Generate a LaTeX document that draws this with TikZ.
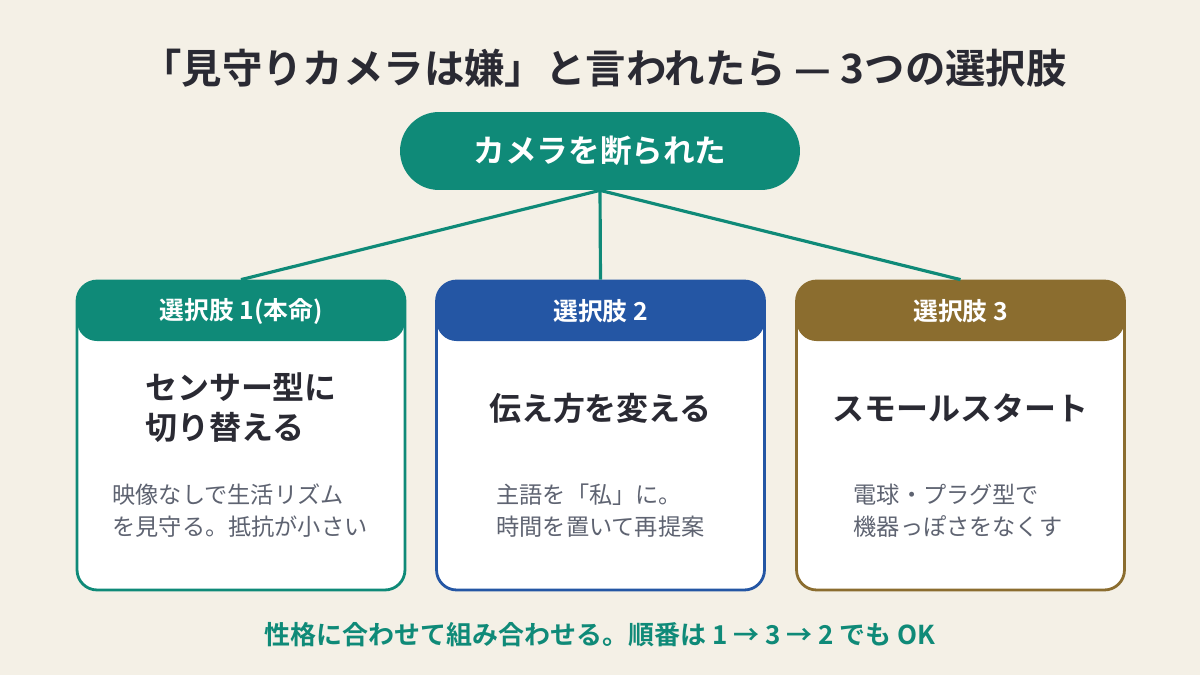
\documentclass[tikz,border=0pt]{standalone}
\usepackage{fontspec}
\setmainfont{Noto Sans CJK JP}[BoldFont={Noto Sans CJK JP Bold}]
\usetikzlibrary{positioning,calc}
\definecolor{bgcream}{HTML}{F4F0E6}
\definecolor{tealc}{HTML}{0F8A78}
\definecolor{bluec}{HTML}{2456A4}
\definecolor{brownc}{HTML}{8B6D2F}
\definecolor{inkc}{HTML}{2A2A33}
\definecolor{notec}{HTML}{5E6371}
\tikzset{
  card/.style={draw=#1, line width=1.6pt, fill=white, rounded corners=0.4cm,
    minimum width=6.56cm, minimum height=6.18cm,
    path picture={\fill[#1] (path picture bounding box.north west) rectangle
      ([yshift=-1.2cm]path picture bounding box.north east);}},
  headtxt/.style={text=white, font=\fontsize{14.1}{16}\selectfont\bfseries,
    minimum height=1.25cm, inner sep=0pt},
  choice/.style={text=inkc, align=left, font=\fontsize{18.2}{22.8}\selectfont\bfseries},
  detail/.style={text=notec, align=left, font=\fontsize{13.2}{18.2}\selectfont},
  link/.style={tealc, line width=1.8pt},
}
\begin{document}
\begin{tikzpicture}[x=0.02cm, y=-0.02cm]
  % background, fixes the page size (pixel units, y downwards)
  \fill[bgcream] (0,0) rectangle (1200,675);
  \node[text=inkc, font=\fontsize{23}{26}\selectfont\bfseries] (title) at (604,68)
    {「見守りカメラは嫌」と言われたら — 3つの選択肢};
  \node[fill=tealc, text=white, rounded corners=0.78cm, minimum width=8cm,
    minimum height=1.56cm, font=\fontsize{18}{22}\selectfont\bfseries] (refused) at (600,151)
    {カメラを断られた};
  % the three options
  \node[card=tealc] (opt1) at (241,435.5) {};
  \node[card=bluec] (opt2) at (600.5,435.5) {};
  \node[card=brownc] (opt3) at (960.5,435.5) {};
  \draw[link] (refused.south) -- (opt1.north);
  \draw[link] (refused.south) -- (opt2.north);
  \draw[link] (refused.south) -- (opt3.north);
  \node[headtxt, below=0pt of opt1.north] (head1) {選択肢 1(本命)};
  \node[headtxt, below=0pt of opt2.north] (head2) {選択肢 2};
  \node[headtxt, below=0pt of opt3.north] (head3) {選択肢 3};
  \node[choice] (main1) at (241,408) {センサー型に\\切り替える};
  \node[choice] (main2) at (600.5,408) {伝え方を変える};
  \node[choice] (main3) at (960.5,408) {スモールスタート};
  \node[detail] (note1) at (240,511) {映像なしで生活リズム\\を見守る。抵抗が小さい};
  \node[detail] (note2) at (600.5,511) {主語を「私」に。\\時間を置いて再提案};
  \node[detail] (note3) at (958,511) {電球・プラグ型で\\機器っぽさをなくす};
  % closing remark
  \node[text=tealc, font=\fontsize{14.8}{18}\selectfont\bfseries] (footer) at (600,635)
    {性格に合わせて組み合わせる。順番は 1 → 3 → 2 でも OK};
\end{tikzpicture}
\end{document}
